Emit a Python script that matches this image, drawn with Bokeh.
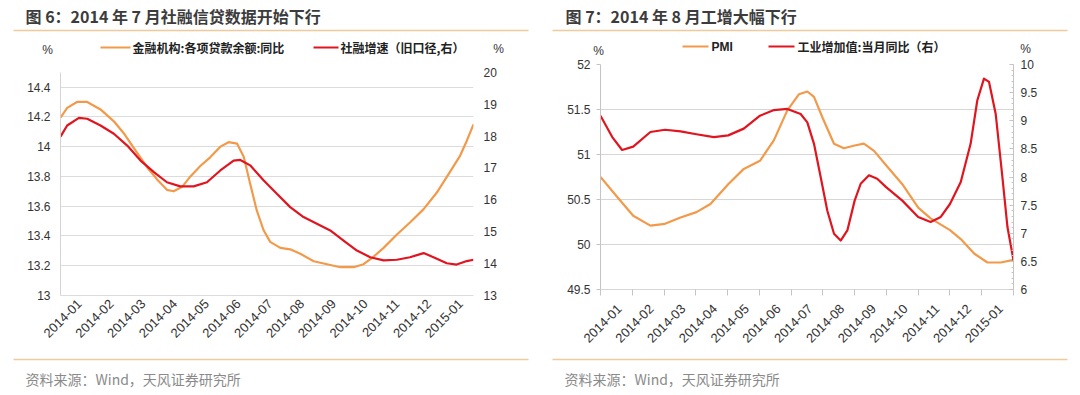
import math
from bokeh.plotting import figure
from bokeh.models import Range1d, LinearAxis, FixedTicker, CustomJSTickFormatter
from bokeh.layouts import row, column
from bokeh.core.properties import value
from bokeh.embed import file_html
from bokeh.resources import INLINE

# ---------------- data ----------------
months = ["2014-01", "2014-02", "2014-03", "2014-04", "2014-05", "2014-06", "2014-07",
          "2014-08", "2014-09", "2014-10", "2014-11", "2014-12", "2015-01"]

# Figure 6 (positions along the month axis, in months from the left edge)
loan_x = [0, 0.21, 0.52, 0.84, 1.26, 1.68, 1.99, 2.31, 2.73, 3.04, 3.35, 3.56, 3.83, 4.09,
          4.40, 4.72, 5.03, 5.29, 5.56, 5.77, 5.97, 6.18, 6.39, 6.60, 6.92, 7.23, 7.55, 7.97,
          8.39, 8.81, 9.22, 9.54, 9.85, 10.17, 10.59, 11.0, 11.43, 11.84, 12.26, 12.58, 12.79, 13.0]
loan_yoy = [14.195, 14.26, 14.30, 14.30, 14.25, 14.17, 14.09, 13.99, 13.86, 13.78, 13.71, 13.70,
            13.73, 13.80, 13.87, 13.93, 14.00, 14.03, 14.02, 13.93, 13.75, 13.57, 13.44, 13.36,
            13.32, 13.31, 13.28, 13.23, 13.21, 13.19, 13.19, 13.21, 13.26, 13.32, 13.41, 13.49,
            13.58, 13.69, 13.83, 13.94, 14.04, 14.15]

tsf_x = [0, 0.21, 0.58, 0.84, 1.26, 1.68, 2.10, 2.52, 2.94, 3.35, 3.77, 4.19, 4.61, 5.03, 5.45,
         5.66, 5.97, 6.39, 6.81, 7.23, 7.65, 8.07, 8.49, 8.91, 9.33, 9.75, 10.17, 10.59, 11.0,
         11.43, 11.74, 12.16, 12.47, 12.79, 13.0]
tsf_growth = [17.98, 18.33, 18.57, 18.54, 18.33, 18.07, 17.70, 17.23, 16.87, 16.55, 16.42, 16.42,
              16.55, 16.92, 17.23, 17.25, 17.08, 16.61, 16.19, 15.77, 15.46, 15.25, 15.04, 14.72,
              14.41, 14.20, 14.10, 14.12, 14.20, 14.33, 14.20, 14.01, 13.97, 14.08, 14.12]

fig6_left_ticks = [13, 13.2, 13.4, 13.6, 13.8, 14, 14.2, 14.4]
fig6_right_ticks = [13, 14, 15, 16, 17, 18, 19, 20]

# Figure 7
pmi_x = [0, 0.52, 1.03, 1.57, 2.03, 2.52, 3.02, 3.46, 4.02, 4.51, 5.02, 5.46, 5.88, 6.25, 6.51,
         6.72, 7.0, 7.35, 7.66, 8.0, 8.29, 8.61, 8.99, 9.50, 10.0, 10.39, 11.0, 11.34, 11.76,
         12.18, 12.6, 13.0]
pmi = [50.75, 50.53, 50.32, 50.21, 50.23, 50.30, 50.36, 50.45, 50.67, 50.84, 50.93, 51.16, 51.49,
       51.67, 51.70, 51.64, 51.40, 51.12, 51.07, 51.10, 51.12, 51.04, 50.88, 50.67, 50.41, 50.29,
       50.16, 50.06, 49.90, 49.80, 49.80, 49.83]

iva_x = [0, 0.37, 0.68, 1.03, 1.57, 2.03, 2.52, 3.02, 3.57, 4.02, 4.51, 5.02, 5.46, 5.88, 6.30,
         6.51, 6.72, 6.93, 7.14, 7.35, 7.56, 7.77, 8.0, 8.19, 8.45, 8.71, 8.99, 9.50, 10.0, 10.39,
         10.71, 11.0, 11.34, 11.65, 11.86, 12.07, 12.23, 12.44, 12.65, 12.81, 13.0]
iva_yoy = [9.09, 8.71, 8.48, 8.54, 8.80, 8.84, 8.81, 8.76, 8.71, 8.74, 8.86, 9.09, 9.19, 9.21,
           9.12, 8.97, 8.59, 8.0, 7.40, 6.99, 6.87, 7.05, 7.58, 7.88, 8.03, 7.97, 7.82, 7.58,
           7.29, 7.20, 7.29, 7.52, 7.91, 8.59, 9.36, 9.75, 9.69, 9.12, 8.0, 7.11, 6.52]

fig7_left_ticks = [49.5, 50, 50.5, 51, 51.5, 52]
fig7_right_ticks = [6, 6.5, 7, 7.5, 8, 8.5, 9, 9.5, 10]

title6 = "图 6：2014 年 7 月社融信贷数据开始下行"
title7 = "图 7：2014 年 8 月工增大幅下行"
legend6 = ["金融机构:各项贷款余额:同比", "社融增速（旧口径,右）"]
legend7 = ["PMI", "工业增加值:当月同比（右）"]
source = "资料来源：Wind，天风证券研究所"

# ---------------- style ----------------
ORANGE = "#F29A4A"
RED = "#E0151F"
RULE = "#F0CA9C"
CJK = "Noto Sans CJK SC"
LAT = "Liberation Sans"
TXT = "#333333"

num_fmt_code = "return (Math.round(tick*10)/10).toString();"
x_fmt_code = "var i = Math.floor(tick); return (i >= 0 && i < labels.length) ? labels[i] : '';"
label_pos = [i + 0.6 for i in range(len(months))]
bounds = [i for i in range(len(months) + 1)]

W = 1080
HDR_H = 56
CH_H = 294
FTR_H = 395 - HDR_H - CH_H

# both chart canvases share the same borders (Bokeh aligns plots in a row);
# the frame spans page y 64..295
MB_L, MB_R, MB_T, MB_B = 60, 67, 8, 55
FRAME_H = CH_H - MB_T - MB_B  # 231 px


def ext_range(lo, hi, lo_px, hi_px):
    """Range whose [lo, hi] maps to frame pixel offsets lo_px (from bottom) .. hi_px."""
    per_px = (hi - lo) / (hi_px - lo_px)
    return Range1d(lo - lo_px * per_px, hi + (FRAME_H - hi_px) * per_px)


def base_chart(yr, yr2):
    p = figure(width=W // 2, height=CH_H, x_range=Range1d(0, len(months)), y_range=yr,
               title=None, output_backend="svg", toolbar_location=None,
               min_border_left=MB_L, min_border_right=MB_R, min_border_top=MB_T, min_border_bottom=MB_B)
    p.outline_line_color = None
    p.background_fill_color = "white"
    p.border_fill_color = "white"
    p.extra_y_ranges = {"r": yr2}
    p.xgrid.visible = False
    p.ygrid.grid_line_color = "#dcdcdc"
    p.ygrid.grid_line_width = 1
    return p


def style_axis(ax, line_color):
    ax.major_label_text_font = LAT
    ax.major_label_text_font_size = "12px"
    ax.major_label_text_color = TXT
    ax.axis_line_color = line_color
    ax.major_tick_line_color = line_color
    ax.minor_tick_line_color = line_color


# ---------------- Figure 6 : plot area page y 71.7 .. 295 ----------------
p1 = base_chart(ext_range(13, 14.5, 0, FRAME_H - 7.7), ext_range(13, 20, 0, FRAME_H - 7.7))
ya = p1.yaxis[0]
ya.ticker = FixedTicker(ticks=fig6_left_ticks)
ya.formatter = CustomJSTickFormatter(code=num_fmt_code)
style_axis(ya, "#d4d4d4")
ya.bounds = (13, 14.5)
ya.major_tick_out = 0
ya.major_tick_in = 0
ya.major_label_standoff = 10

yr = LinearAxis(y_range_name="r", ticker=FixedTicker(ticks=fig6_right_ticks),
                formatter=CustomJSTickFormatter(code=num_fmt_code))
style_axis(yr, None)
yr.major_tick_out = 0
yr.major_tick_in = 0
yr.major_label_standoff = 10
p1.add_layout(yr, "right")

xa = p1.xaxis[0]
xa.ticker = FixedTicker(ticks=label_pos)
xa.formatter = CustomJSTickFormatter(args=dict(labels=months), code=x_fmt_code)
style_axis(xa, "#dcdcdc")
xa.major_label_text_font_size = "13px"
xa.major_tick_out = 0
xa.major_tick_in = 0
xa.major_label_orientation = math.pi / 4
xa.major_label_standoff = 6

p1.line(loan_x, loan_yoy, line_color=ORANGE, line_width=2.2, line_join="round")
p1.line(tsf_x, tsf_growth, line_color=RED, line_width=2.2, line_join="round", y_range_name="r")

# ---------------- Figure 7 : plot area page y 64 .. 289 ----------------
p2 = base_chart(ext_range(49.5, 52, 6, FRAME_H), ext_range(6, 10, 6, FRAME_H))
p2.ygrid.grid_line_color = "#d6d6d6"
ya2 = p2.yaxis[0]
ya2.ticker = FixedTicker(ticks=fig7_left_ticks)
ya2.formatter = CustomJSTickFormatter(code=num_fmt_code)
style_axis(ya2, "#c4c4c4")
ya2.bounds = (49.5, 52)
ya2.major_tick_out = 4
ya2.major_tick_in = 0
ya2.major_label_standoff = 6

yr2 = LinearAxis(y_range_name="r",
                 ticker=FixedTicker(ticks=fig7_right_ticks,
                                    minor_ticks=[round(6 + 0.1 * k, 1) for k in range(41)]),
                 formatter=CustomJSTickFormatter(code=num_fmt_code))
style_axis(yr2, "#c4c4c4")
yr2.bounds = (6, 10)
yr2.major_tick_out = 0
yr2.major_tick_in = 4
yr2.minor_tick_out = 0
yr2.minor_tick_in = 2
yr2.major_label_standoff = 7
p2.add_layout(yr2, "right")

xa2 = p2.xaxis[0]
xa2.ticker = FixedTicker(ticks=label_pos, minor_ticks=bounds)
xa2.formatter = CustomJSTickFormatter(args=dict(labels=months), code=x_fmt_code)
style_axis(xa2, "#c4c4c4")
xa2.axis_line_color = None
xa2.major_label_text_font_size = "13px"
xa2.major_tick_out = 0
xa2.major_tick_in = 0
xa2.minor_tick_out = 0
xa2.minor_tick_in = 6
xa2.major_label_orientation = math.pi / 4
xa2.major_label_standoff = 11

p2.line(pmi_x, pmi, line_color=ORANGE, line_width=2.2, line_join="round")
p2.line(iva_x, iva_yoy, line_color=RED, line_width=2.2, line_join="round", y_range_name="r")


# ---------------- header / footer (pixel coordinate canvases) ----------------
def blank(h):
    f = figure(width=W, height=h, x_range=Range1d(0, W), y_range=Range1d(h, 0),
               x_axis_type=None, y_axis_type=None, output_backend="svg", toolbar_location=None,
               min_border=0, title=None)
    f.grid.visible = False
    f.outline_line_color = None
    f.background_fill_color = "white"
    f.border_fill_color = "white"
    return f


hdr = blank(HDR_H)
hdr.text(x=[25, 565], y=[15, 15], text=[title6, title7], text_font=value(CJK),
         text_font_size="16px", text_font_style="bold", text_color="#3c3c3c",
         text_baseline="middle", text_align="left")
hdr.segment(x0=[13, 552], y0=[30, 30], x1=[528, 1067], y1=[30, 30], line_color=RULE, line_width=1.6)
# units and legends
hdr.text(x=[47, 498, 598, 1025], y=[49, 48, 50, 48], text=["%", "%", "%", "%"],
         text_font=value(LAT), text_font_size="12px", text_color=TXT,
         text_baseline="middle", text_align="center")
hdr.segment(x0=[100, 682], y0=[47, 46], x1=[130, 708], y1=[47, 46], line_color=ORANGE, line_width=2)
hdr.segment(x0=[313, 768], y0=[47, 46], x1=[338, 794], y1=[47, 46], line_color=RED, line_width=2)
hdr.text(x=[132, 340, 797], y=[47, 47, 46], text=[legend6[0], legend6[1], legend7[1]],
         text_font=value(CJK), text_font_size="12px", text_font_style="bold", text_color="#222222",
         text_baseline="middle", text_align="left")
hdr.text(x=[711], y=[46], text=[legend7[0]], text_font=value(LAT), text_font_size="12px",
         text_font_style="bold", text_color="#222222", text_baseline="middle", text_align="left")

ftr = blank(FTR_H)
ftr.segment(x0=[13, 552], y0=[9, 9], x1=[528, 1067], y1=[9, 9], line_color=RULE, line_width=1.6)
ftr.text(x=[25, 564], y=[28, 28], text=[source, source], text_font=value(CJK),
         text_font_size="14px", text_color="#8a8a8a", text_baseline="middle", text_align="left")

layout = column(hdr, row(p1, p2), ftr)
open("out.html", "w").write(file_html(layout, INLINE))
